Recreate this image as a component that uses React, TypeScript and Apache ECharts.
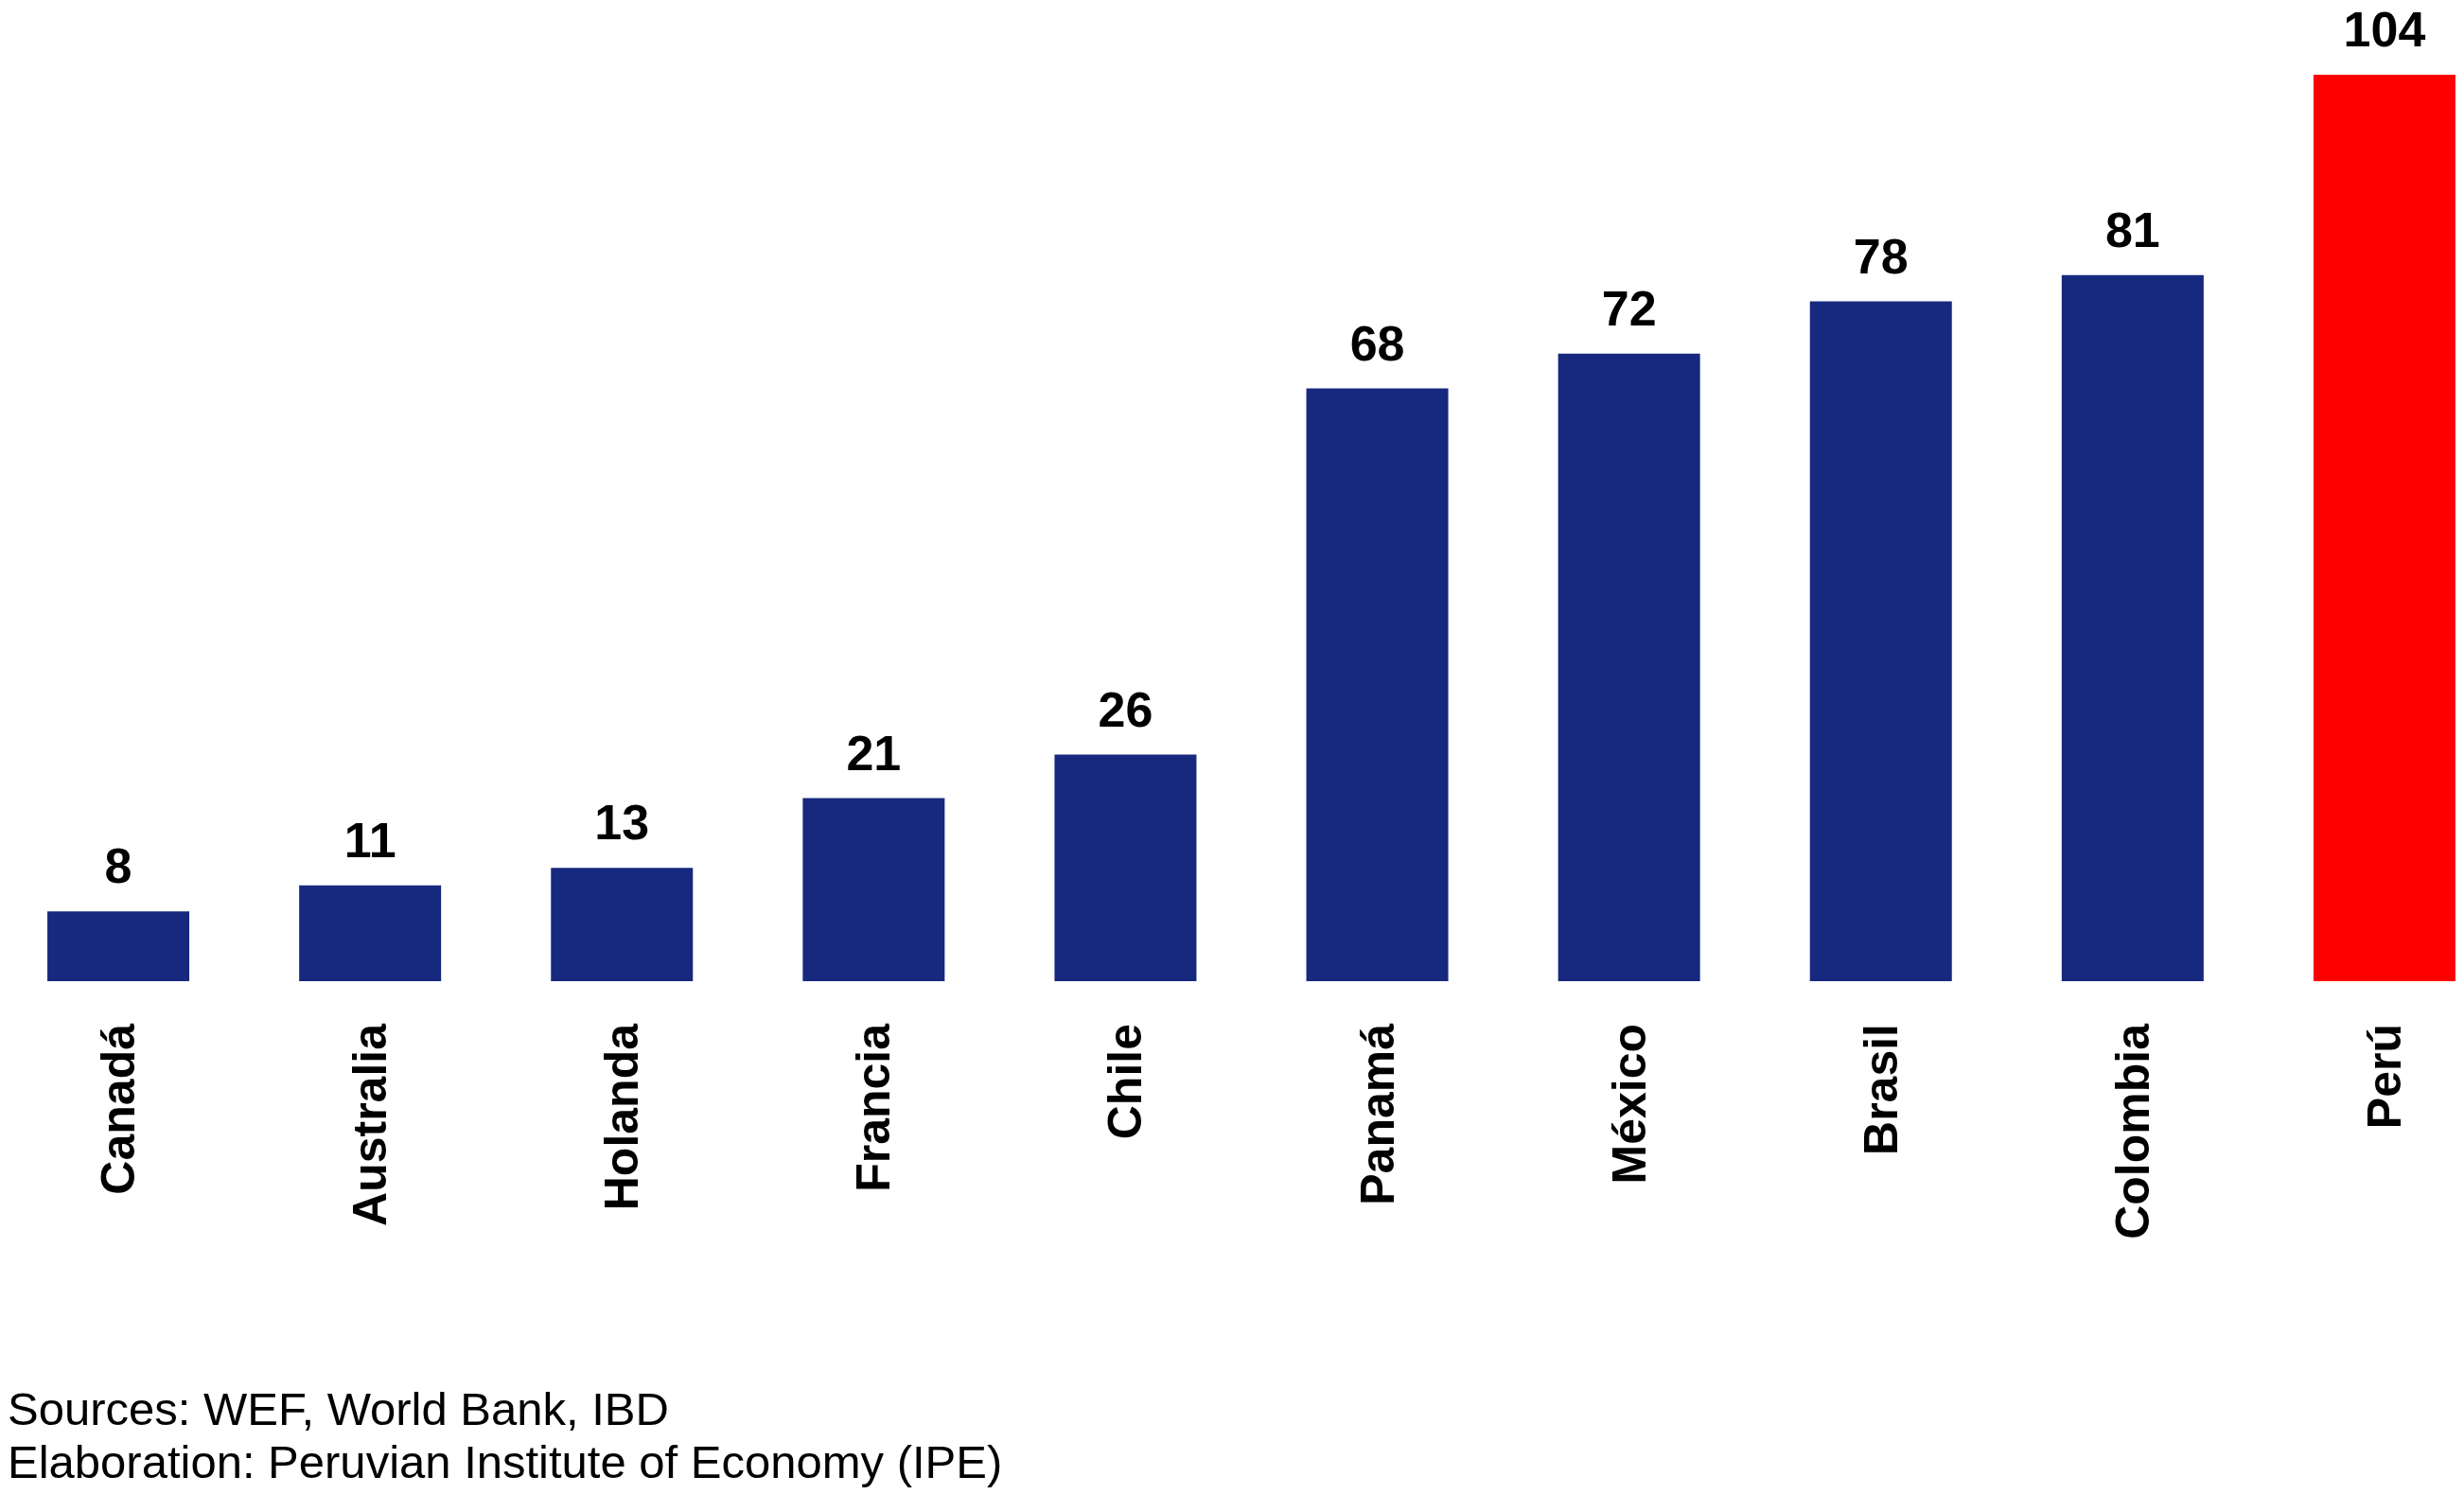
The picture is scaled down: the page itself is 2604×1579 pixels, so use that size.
import React, { useEffect, useRef } from "react";
import * as echarts from "echarts";

const categories = ["Canadá", "Australia", "Holanda", "Francia", "Chile", "Panamá", "México", "Brasil", "Colombia", "Perú"];
const values = [8, 11, 13, 21, 26, 68, 72, 78, 81, 104];
const highlight = "Perú";
const footerLines = ["Sources: WEF, World Bank, IBD", "Elaboration: Peruvian Institute of Economy (IPE)"];

const BLUE = "#17287f";
const RED = "#ff0000";
const FONT = "'Liberation Sans', Arial, Helvetica, sans-serif";

export default function App() {
  const ref = useRef<HTMLDivElement>(null);
  useEffect(() => {
    if (!ref.current) return;
    const chart = echarts.init(ref.current, null, { renderer: "svg" });
    chart.setOption({
      animation: false,
      backgroundColor: "#ffffff",
      grid: {
        left: -8,
        top: 79,
        width: 2661,
        height: 958,
        containLabel: false,
        outerBoundsMode: "none",
      },
      xAxis: {
        type: "category",
        data: categories,
        axisLine: { show: false },
        axisTick: { show: false },
        axisLabel: {
          rotate: 90,
          margin: 45,
          interval: 0,
          color: "#000000",
          fontFamily: FONT,
          fontWeight: "bold",
          fontSize: 50,
        },
      },
      yAxis: {
        type: "value",
        min: 0,
        max: 104,
        show: false,
        splitLine: { show: false },
      },
      series: [
        {
          type: "bar",
          barWidth: 150,
          data: values.map((v, i) => ({
            value: v,
            itemStyle: { color: categories[i] === highlight ? RED : BLUE },
          })),
          label: {
            show: true,
            position: "top",
            distance: 22,
            color: "#000000",
            fontFamily: FONT,
            fontWeight: "bold",
            fontSize: 52,
          },
        },
      ],
      graphic: footerLines.map((t, i) => ({
        type: "text",
        left: 8,
        top: 1464 + i * 56,
        style: {
          text: t,
          fill: "#000000",
          font: `49px ${FONT}`,
        },
      })),
    });
    return () => chart.dispose();
  }, []);
  return (
    <div
      ref={ref}
      style={{ position: "absolute", left: 0, top: 0, width: 2604, height: 1579 }}
    />
  );
}
